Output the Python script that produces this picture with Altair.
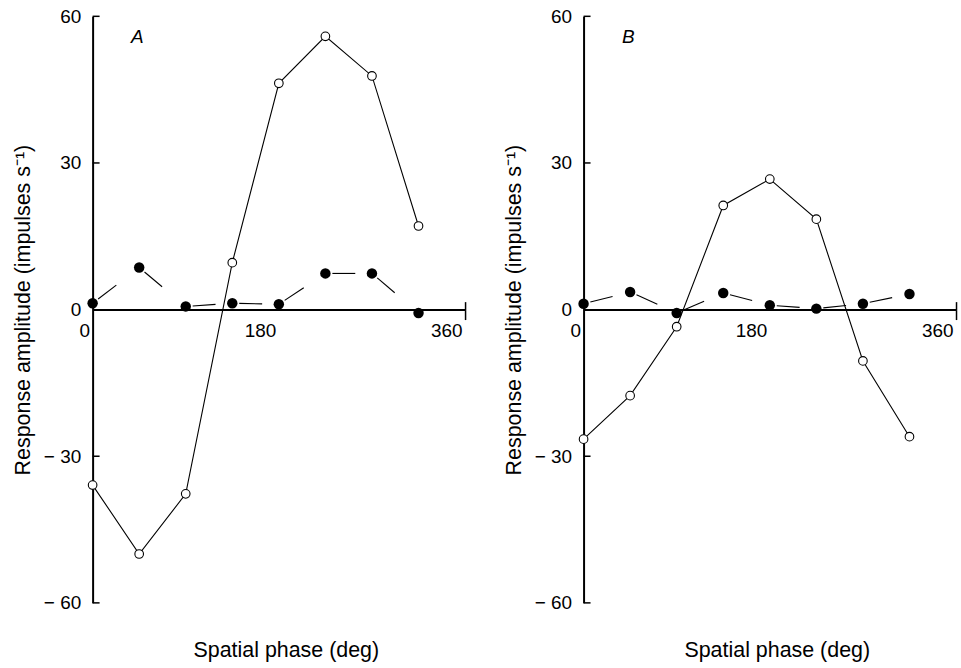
import altair as alt
import pandas as pd

# Spatial phase of the grating (deg)
phase = [0, 45, 90, 135, 180, 225, 270, 315]

# Panel A: response amplitude (impulses/s)
a_open = [-35.9, -50.0, -37.7, 9.6, 46.3, 55.9, 47.8, 17.1]
a_filled = [1.3, 8.6, 0.65, 1.3, 1.1, 7.4, 7.4, -0.7]

# Panel B: response amplitude (impulses/s)
b_open = [-26.5, -17.6, -3.5, 21.3, 26.7, 18.5, -10.5, -26.0]
b_filled = [1.2, 3.6, -0.7, 3.4, 0.9, 0.2, 1.2, 3.2]

y_ticks = [-60, -30, 0, 30, 60]
y_inner_ticks = [-60, -30, 30, 60]
x_ticks = [0, 180, 360]
x_end_tick = [360]

W, H = 374, 589
FONT = "Liberation Sans"
LABEL_SIZE = 19
TITLE_SIZE = 21.5


def segments(values):
    """Split a series into consecutive two-point pieces so each gets its own dash."""
    rows = []
    for i in range(len(phase) - 1):
        rows.append({"phase": phase[i], "amp": values[i], "seg": i})
        rows.append({"phase": phase[i + 1], "amp": values[i + 1], "seg": i})
    return pd.DataFrame(rows)


def panel(letter, open_vals, filled_vals):
    df_open = pd.DataFrame({"phase": phase, "amp": open_vals})
    df_fill = pd.DataFrame({"phase": phase, "amp": filled_vals})
    df_fill_seg = segments(filled_vals)
    df_yt = pd.DataFrame({"amp": y_inner_ticks})

    xs = alt.Scale(domain=[0, 360], nice=False, zero=False)
    ys = alt.Scale(domain=[-60, 60], nice=False, zero=False)

    # axis along the zero line, with labels and the bottom title
    x_main = alt.Axis(
        orient="bottom", offset=-H / 2, values=x_ticks, ticks=False,
        domainWidth=2, domainColor="black", grid=False,
        labelAlign="right", labelOffset=-3, labelPadding=12,
        labelFontSize=LABEL_SIZE, labelFont=FONT, labelColor="black",
        title="Spatial phase (deg)", titleFont=FONT, titleFontSize=TITLE_SIZE,
        titleFontWeight="normal", titleColor="black",
        titleX=W / 2 + 7, titleY=342, titleBaseline="middle", titleAlign="center",
    )
    y_main = alt.Axis(
        orient="left", values=y_ticks, ticks=False,
        domainWidth=2, domainColor="black", grid=False,
        labelPadding=12, labelFontSize=LABEL_SIZE, labelFont=FONT, labelColor="black",
        labelExpr="datum.value < 0 ? '\u2212 ' + abs(datum.value) : datum.label",
        title="Response amplitude (impulses s\u207b\u00b9)", titleFont=FONT,
        titleFontSize=TITLE_SIZE, titleFontWeight="normal", titleColor="black",
        titlePadding=9,
    )
    # end tick crossing the zero line at 360 deg
    x_top_tick = alt.Axis(
        orient="top", offset=-H / 2, values=x_end_tick, tickSize=8, tickWidth=1.5,
        tickColor="black", labels=False, domain=False, grid=False, title=None,
    )
    x_bottom_tick = alt.Axis(
        orient="bottom", offset=-H / 2, values=x_end_tick, tickSize=10, tickWidth=1.5,
        tickColor="black", labels=False, domain=False, grid=False, title=None,
    )

    open_line = alt.Chart(df_open).mark_line(color="black", strokeWidth=1.1).encode(
        x=alt.X("phase:Q", scale=xs, axis=x_main),
        y=alt.Y("amp:Q", scale=ys, axis=y_main),
    )
    fill_line = alt.Chart(df_fill_seg).mark_line(
        color="black", strokeWidth=1.1, strokeDash=[23, 300], strokeDashOffset=316
    ).encode(
        x=alt.X("phase:Q", scale=xs, axis=x_top_tick),
        y=alt.Y("amp:Q", scale=ys, axis=None),
        detail="seg:N",
    )
    fill_pts = alt.Chart(df_fill).mark_point(
        shape="circle", filled=True, color="black", size=110, opacity=1
    ).encode(
        x=alt.X("phase:Q", scale=xs, axis=x_bottom_tick),
        y=alt.Y("amp:Q", scale=ys, axis=None),
    )
    open_pts = alt.Chart(df_open).mark_point(
        shape="circle", filled=True, fill="white", stroke="black",
        strokeWidth=1.1, size=75, opacity=1
    ).encode(
        x=alt.X("phase:Q", scale=xs, axis=None),
        y=alt.Y("amp:Q", scale=ys, axis=None),
    )
    # short inward ticks on the amplitude axis
    y_inner = alt.Chart(df_yt).mark_rule(color="black", strokeWidth=1.5).encode(
        y=alt.Y("amp:Q", scale=ys, axis=None),
        x=alt.value(0),
        x2=alt.value(7),
    )
    tag = alt.Chart(pd.DataFrame({"t": [letter]})).mark_text(
        font=FONT, fontSize=19, fontStyle="italic", color="black"
    ).encode(text="t:N", x=alt.value(45), y=alt.value(21))

    return (
        alt.layer(open_line, fill_line, fill_pts, open_pts, y_inner, tag)
        .resolve_axis(x="independent", y="independent")
        .properties(width=W, height=H)
    )


chart = (
    alt.hconcat(panel("A", a_open, a_filled), panel("B", b_open, b_filled), spacing=37)
    .properties(padding={"left": 12, "top": 6, "right": 4, "bottom": 4}, background="white")
    .configure_view(stroke=None)
)

chart.save("out.html", embed_options={"renderer": "svg", "actions": False})
